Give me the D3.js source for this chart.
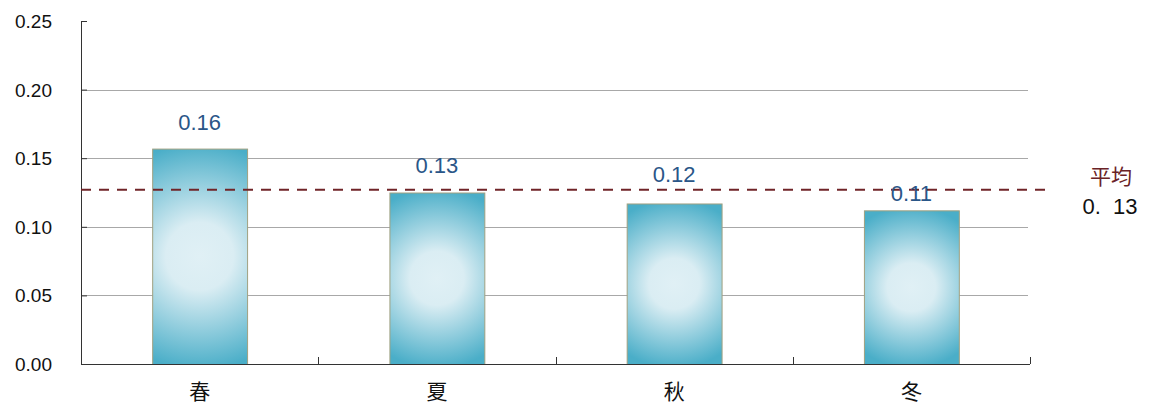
<!DOCTYPE html>
<html>
<head>
<meta charset="utf-8">
<script src="https://cdn.jsdelivr.net/npm/d3@7"></script>
<style>
  body { margin: 0; background: #fff; }
</style>
</head>
<body>
<svg id="chart" width="1152" height="409"></svg>
<script>
// data
var seasons = ["春", "夏", "秋", "冬"];
var values = [0.157, 0.125, 0.117, 0.112];
var valueLabels = ["0.16", "0.13", "0.12", "0.11"];
var yTicks = [0, 0.05, 0.10, 0.15, 0.20, 0.25];
var average = 0.127;
var averageLabel = ["平均", "0. 13"];

// gap between bar top and label baseline (the last one sits low, over the dashed line)
var labelGap = [19, 20, 21, 9];

var svg = d3.select("#chart");

var plotLeft = 81, plotRight = 1030, plotTop = 21, plotBottom = 364;

var x = d3.scaleBand()
    .domain(seasons)
    .range([plotLeft, plotRight])
    .paddingInner(0.6)
    .paddingOuter(0.3);

var y = d3.scaleLinear()
    .domain([0, 0.25])
    .range([plotBottom, plotTop]);

// gridlines
svg.append("g")
    .selectAll("line")
    .data(yTicks.filter(function(d){ return d > 0 && d < 0.25; }))
    .enter().append("line")
    .attr("x1", plotLeft)
    .attr("x2", plotRight - 2)
    .attr("y1", function(d){ return Math.round(y(d)) + 0.5; })
    .attr("y2", function(d){ return Math.round(y(d)) + 0.5; })
    .attr("stroke", "#a8a8a8")
    .attr("stroke-width", 1);

// bar gradients, one per bar so the light spot stays round
var defs = svg.append("defs");
seasons.forEach(function(s, i){
    var bx = x(s), bw = x.bandwidth();
    var by = y(values[i]), bh = plotBottom - by;
    var g = defs.append("radialGradient")
        .attr("id", "grad" + i)
        .attr("gradientUnits", "userSpaceOnUse")
        .attr("cx", bx + bw / 2)
        .attr("cy", by + bh / 2)
        .attr("r", Math.max(bh / 2, bw / 2) * 1.05);
    g.append("stop").attr("offset", "0").attr("stop-color", "#e0f0f5");
    g.append("stop").attr("offset", "0.3").attr("stop-color", "#daedf3");
    g.append("stop").attr("offset", "1").attr("stop-color", "#4aaec8");
});

svg.append("g")
    .selectAll("rect")
    .data(values)
    .enter().append("rect")
    .attr("x", function(d, i){ return x(seasons[i]) + 0.5; })
    .attr("y", function(d){ return y(d) + 0.5; })
    .attr("width", x.bandwidth())
    .attr("height", function(d){ return plotBottom - y(d); })
    .attr("fill", function(d, i){ return "url(#grad" + i + ")"; })
    .attr("stroke", "#a0a080")
    .attr("stroke-width", 1);

// y axis, ticks point inward
var yAxis = svg.append("g")
    .attr("transform", "translate(" + plotLeft + ",0)")
    .call(d3.axisRight(y).tickValues(yTicks).tickSize(6).tickFormat(""));
yAxis.select(".domain").attr("stroke", "#333").attr("d", "M0.5," + plotTop + "V" + plotBottom);
yAxis.selectAll(".tick line").attr("stroke", "#333");

svg.append("g")
    .selectAll("text")
    .data(yTicks)
    .enter().append("text")
    .attr("x", 52)
    .attr("y", function(d){ return y(d) + 7; })
    .attr("text-anchor", "end")
    .attr("font-family", "Liberation Sans, Arial, sans-serif")
    .attr("font-size", 19)
    .attr("fill", "#111")
    .text(function(d){ return d3.format(".2f")(d); });

// x axis line and separator ticks
svg.append("line")
    .attr("x1", plotLeft)
    .attr("x2", plotRight)
    .attr("y1", plotBottom + 0.5)
    .attr("y2", plotBottom + 0.5)
    .attr("stroke", "#333")
    .attr("stroke-width", 1.2);

var step = x.step();
var seps = seasons.map(function(s){ return x(s) + x.bandwidth() / 2 + step / 2; });
svg.append("g")
    .selectAll("line")
    .data(seps)
    .enter().append("line")
    .attr("x1", function(d){ return Math.round(d) + 0.5; })
    .attr("x2", function(d){ return Math.round(d) + 0.5; })
    .attr("y1", plotBottom)
    .attr("y2", plotBottom - 7)
    .attr("stroke", "#333");

svg.append("g")
    .selectAll("text")
    .data(seasons)
    .enter().append("text")
    .attr("x", function(d){ return x(d) + x.bandwidth() / 2; })
    .attr("y", 399)
    .attr("text-anchor", "middle")
    .attr("font-family", "Noto Sans CJK JP")
    .attr("font-size", 21)
    .attr("fill", "#111")
    .text(function(d){ return d; });

// average line
svg.append("line")
    .attr("x1", plotLeft)
    .attr("x2", 1045)
    .attr("y1", y(average))
    .attr("y2", y(average))
    .attr("stroke", "#702428")
    .attr("stroke-width", 2.2)
    .attr("stroke-dasharray", "10,8");

// value labels
svg.append("g")
    .selectAll("text")
    .data(values)
    .enter().append("text")
    .attr("x", function(d, i){ return x(seasons[i]) + x.bandwidth() / 2; })
    .attr("y", function(d, i){ return y(d) - labelGap[i]; })
    .attr("text-anchor", "middle")
    .attr("font-family", "Liberation Sans, Arial, sans-serif")
    .attr("font-size", 22)
    .attr("fill", "#2a5688")
    .text(function(d, i){ return valueLabels[i]; });

svg.append("text")
    .attr("x", 1111)
    .attr("y", 184)
    .attr("text-anchor", "middle")
    .attr("font-family", "Noto Sans CJK JP")
    .attr("font-size", 21)
    .attr("fill", "#6a2226")
    .text(averageLabel[0]);

svg.append("text")
    .attr("x", 1110)
    .attr("y", 214)
    .attr("text-anchor", "middle")
    .attr("font-family", "Liberation Sans, Arial, sans-serif")
    .attr("font-size", 22)
    .attr("fill", "#111")
    .attr("xml:space", "preserve")
    .style("white-space", "pre")
    .text(averageLabel[1].replace(" ", "  "));
</script>
</body>
</html>
